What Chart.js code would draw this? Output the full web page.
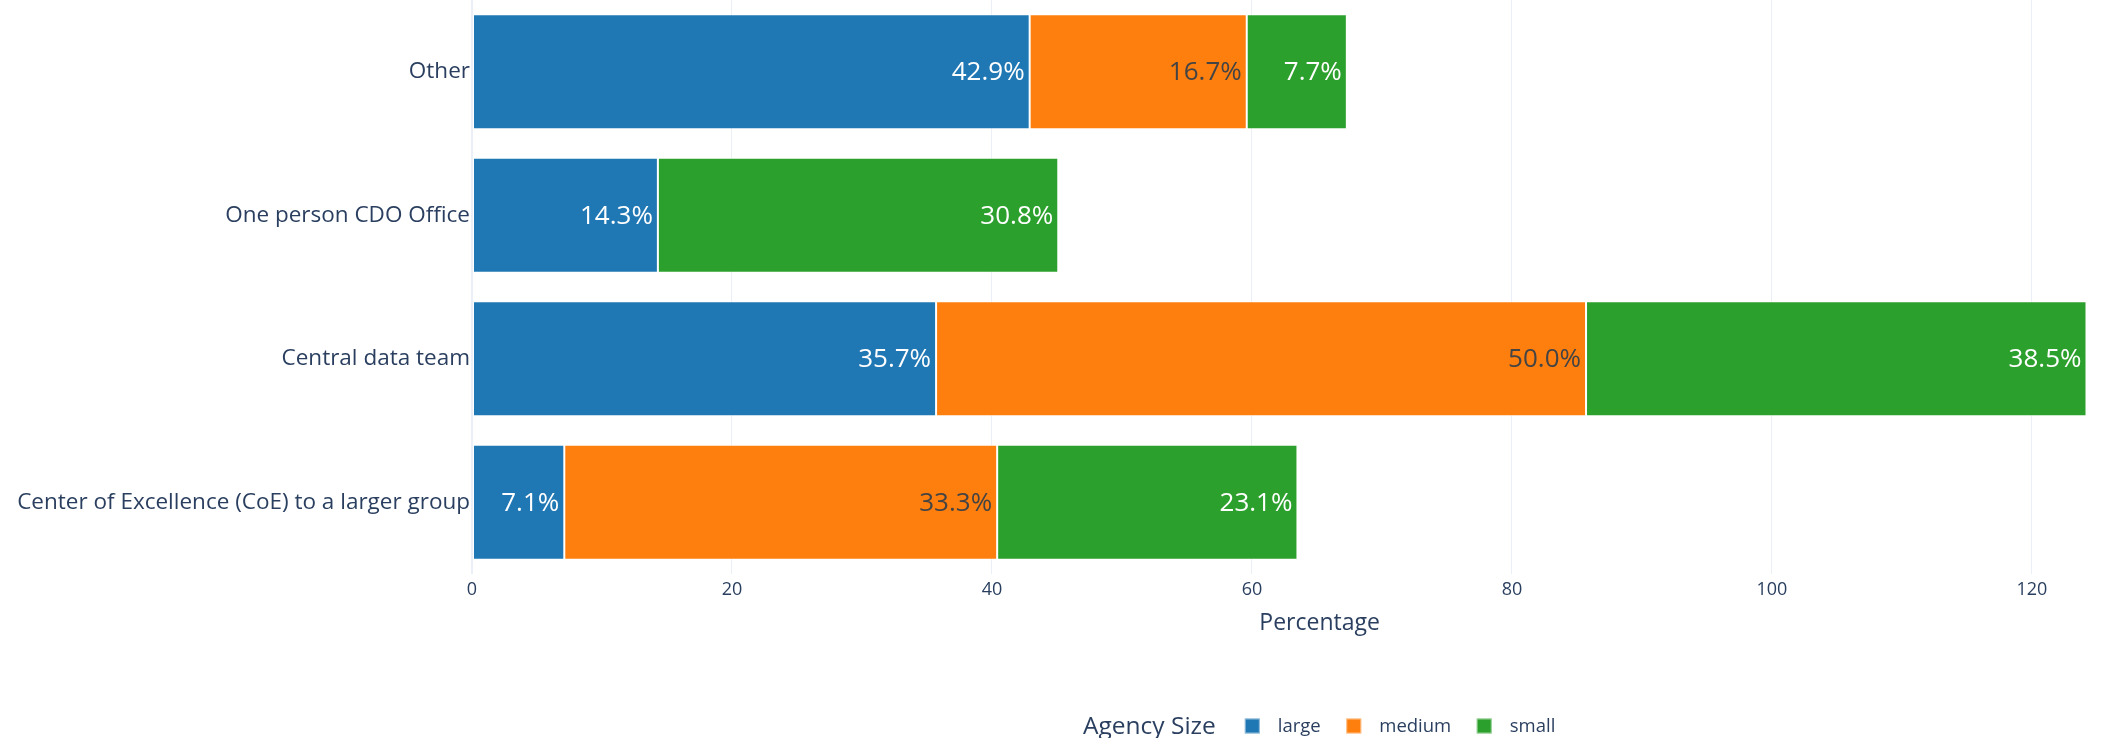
<!DOCTYPE html>
<html>
<head>
<meta charset="utf-8">
<script src="https://cdn.jsdelivr.net/npm/chart.js@4.4.1/dist/chart.umd.min.js"></script>
<style>
  html, body { margin: 0; padding: 0; background: #fff; }
  #wrap { width: 2106px; height: 738px; position: relative; }
</style>
</head>
<body>
<div id="wrap"><canvas id="roleChart" width="2106" height="738"></canvas></div>
<script>
// Team structure by agency size (percent of each size group)
const categories = ['Other', 'One person CDO Office', 'Central data team', 'Center of Excellence (CoE) to a larger group'];
const largeVals = [42.9, 14.3, 35.7, 7.1];
const mediumVals = [16.7, null, 50.0, 33.3];
const smallVals = [7.7, 30.8, 38.5, 23.1];
const seriesNames = ['large', 'medium', 'small'];
const seriesColors = ['#1f77b4', '#ff7f0e', '#2ca02c'];
const labelColors = ['#ffffff', '#444444', '#ffffff'];
const xTicks = [0, 20, 40, 60, 80, 100, 120];
// right end of the visible x range (the padded axis runs past the canvas edge)
const xVisibleMax = 125.7;

const FONT = "'Open Sans', verdana, arial, sans-serif";
const INK = '#2a3f5f';

// longest stacked row, padded by 5% like an autoranged axis
const stackMax = Math.max(...categories.map((_, i) => (largeVals[i] || 0) + (mediumVals[i] || 0) + (smallVals[i] || 0)));
const paddedMax = stackMax * 1.05;

// percent text at the right end of every segment
const barLabels = {
  id: 'barLabels',
  afterDatasetsDraw(chart) {
    const ctx = chart.ctx;
    ctx.save();
    ctx.font = `26px ${FONT}`;
    ctx.textAlign = 'right';
    ctx.textBaseline = 'middle';
    chart.data.datasets.forEach((ds, di) => {
      const meta = chart.getDatasetMeta(di);
      meta.data.forEach((bar, i) => {
        const v = ds.data[i];
        if (v == null) return;
        ctx.fillStyle = labelColors[di];
        ctx.fillText(v.toFixed(1) + '%', bar.x - 5, bar.y + 1);
      });
    });
    ctx.restore();
  }
};

// axis title centred on the full padded range, legend row underneath
const axisTitleAndLegend = {
  id: 'axisTitleAndLegend',
  afterDraw(chart) {
    const ctx = chart.ctx;
    const xs = chart.scales.x;
    ctx.save();
    ctx.textBaseline = 'middle';
    ctx.fillStyle = INK;

    ctx.textAlign = 'center';
    ctx.font = `23px ${FONT}`;
    ctx.fillText('Percentage', xs.getPixelForValue(paddedMax / 2), 623);

    const y = 726;
    let x = 1083;
    ctx.textAlign = 'left';
    ctx.font = `24.5px ${FONT}`;
    ctx.fillText('Agency Size', x, y + 1);
    x += ctx.measureText('Agency Size').width + 29;
    ctx.font = `18.5px ${FONT}`;
    seriesNames.forEach((name, i) => {
      ctx.fillStyle = seriesColors[i];
      ctx.fillRect(x, y - 7.5, 15, 15);
      ctx.strokeStyle = 'rgba(255,255,255,0.5)';
      ctx.lineWidth = 1;
      ctx.strokeRect(x + 0.5, y - 7, 14, 14);
      ctx.fillStyle = INK;
      ctx.fillText(name, x + 33, y + 1);
      x += 33 + ctx.measureText(name).width + 25.5;
    });
    ctx.restore();
  }
};

const ctxRole = document.getElementById('roleChart').getContext('2d');
new Chart(ctxRole, {
  type: 'bar',
  data: {
    labels: categories,
    datasets: [largeVals, mediumVals, smallVals].map((vals, i) => ({
      label: seriesNames[i],
      data: vals,
      backgroundColor: seriesColors[i],
      borderColor: 'rgba(255,255,255,0.5)',
      borderWidth: 1,
      borderSkipped: false,
      categoryPercentage: 0.8,
      barPercentage: 1.0
    }))
  },
  options: {
    indexAxis: 'y',
    responsive: false,
    animation: false,
    layout: { padding: { top: 0, right: 0, bottom: 104, left: 0 } },
    plugins: {
      legend: { display: false },
      tooltip: { enabled: false }
    },
    scales: {
      x: {
        stacked: true,
        min: 0,
        max: xVisibleMax,
        afterBuildTicks: (scale) => { scale.ticks = xTicks.map(v => ({ value: v })); },
        afterFit: (scale) => {
          scale.height = 60;
          scale.paddingLeft = 0;
          scale.paddingRight = 0;
        },
        ticks: {
          padding: 5,
          color: INK,
          font: { family: FONT, size: 18 },
          maxRotation: 0
        },
        grid: {
          color: '#EBF0F8',
          lineWidth: (c) => (c.tick && c.tick.value === 0 ? 2 : 1),
          drawTicks: false
        },
        border: { display: false }
      },
      y: {
        stacked: true,
        afterFit: (scale) => {
          scale.width = 472;
          scale.paddingTop = 0;
          scale.paddingBottom = 0;
        },
        ticks: {
          padding: 2,
          color: INK,
          font: { family: FONT, size: 22.5 }
        },
        grid: { display: false, drawTicks: false },
        border: { display: false }
      }
    }
  },
  plugins: [barLabels, axisTitleAndLegend]
});
</script>
</body>
</html>
